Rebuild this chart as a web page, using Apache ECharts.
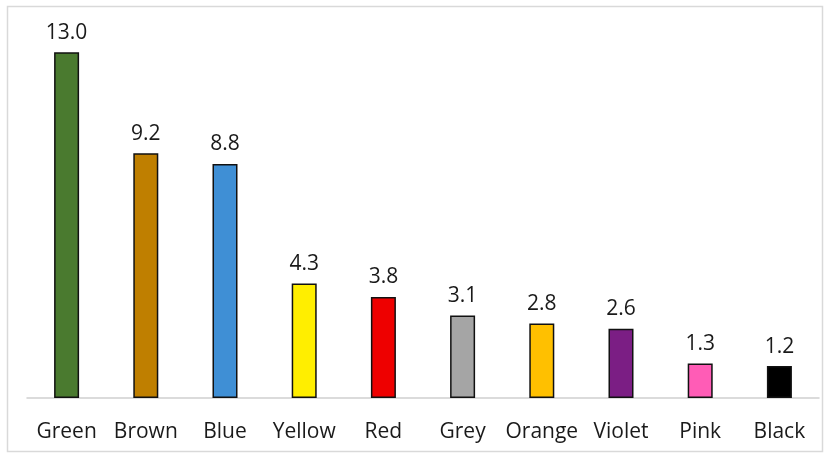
<!DOCTYPE html>
<html><head><meta charset="utf-8">
<script src="https://cdn.jsdelivr.net/npm/echarts@6/dist/echarts.min.js"></script>
<style>html,body{margin:0;padding:0;background:#fff}#c{width:828px;height:454px}</style>
</head><body><div id="c"></div>
<script>
const categories = ["Green","Brown","Blue","Yellow","Red","Grey","Orange","Violet","Pink","Black"];
const values = [13.0, 9.2, 8.8, 4.3, 3.8, 3.1, 2.8, 2.6, 1.3, 1.2];
const barColors = ["#4A7A2F","#BF7F00","#3F8FD5","#FFEE00","#EE0000","#A5A5A5","#FFC000","#7B1E84","#FF5CB6","#000000"];

const chart = echarts.init(document.getElementById('c'), null, {renderer:'canvas'});
chart.setOption({
  animation:false,
  graphic:[{type:'rect', shape:{x:7.5,y:6.5,width:815,height:445}, style:{fill:'none', stroke:'#D9D9D9', lineWidth:1.5}, silent:true, z:-1}],
  grid:{left:27, right:9, top:25.6, bottom:56, containLabel:false},
  xAxis:{type:'category', data:categories,
    axisLine:{show:true, lineStyle:{color:'#D0D0D0', width:1.5}},
    axisTick:{show:false},
    axisLabel:{interval:0, color:'#1a1a1a', fontSize:21, fontFamily:'Open Sans', margin:24}},
  yAxis:{type:'value', min:0, max:14, show:false, splitLine:{show:false}},
  series:[{type:'bar', barWidth:25,
    data: values.map((v,i)=>({value:v, itemStyle:{color:barColors[i]}})),
    itemStyle:{borderColor:'#111', borderWidth:1.5},
    label:{show:true, position:'top', distance:9, color:'#1a1a1a', fontSize:21, fontFamily:'Open Sans',
      formatter:p=>p.value.toFixed(1)}
  }]
});
</script></body></html>
